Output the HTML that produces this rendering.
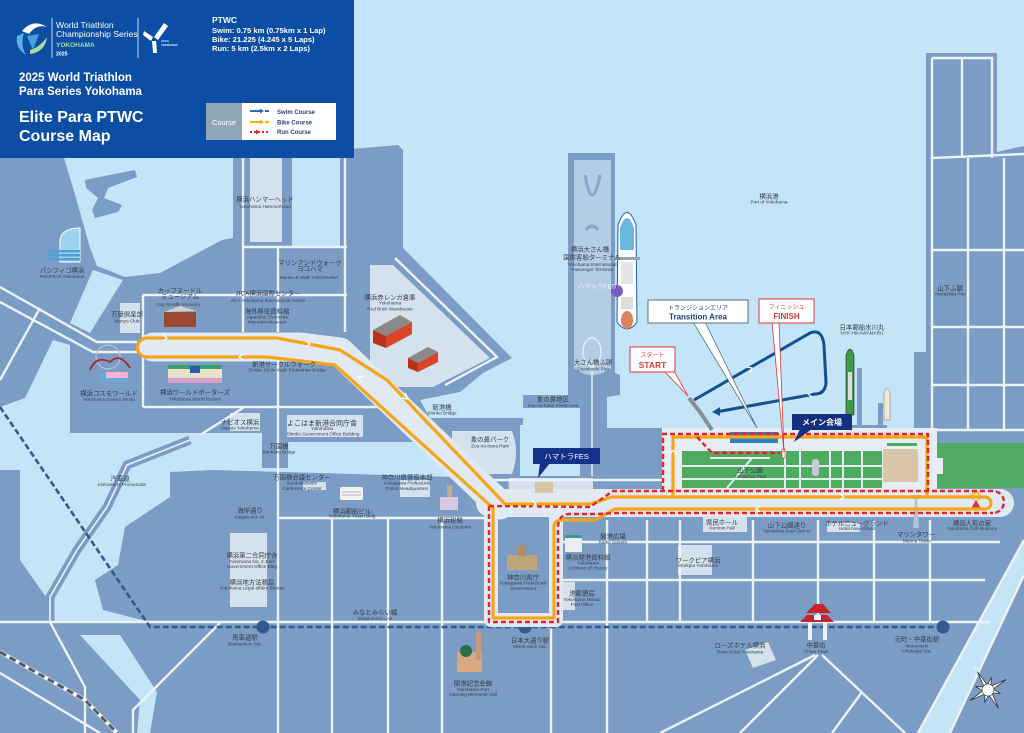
<!DOCTYPE html>
<html><head><meta charset="utf-8">
<style>
html,body{margin:0;padding:0;background:#c4e4f7;}
body{width:1024px;height:733px;overflow:hidden;}
svg{display:block;}
.j{font-family:"Liberation Sans","Noto Sans CJK JP",sans-serif;font-size:6.4px;fill:#333b46;text-anchor:middle;}
.e{font-family:"Liberation Sans",sans-serif;font-size:4.7px;fill:#3a4350;text-anchor:middle;}
.w{stroke:#edf2f8;stroke-width:2.4;fill:none;}
.h{font-family:"Liberation Sans",sans-serif;fill:#fff;font-weight:bold;}
</style></head><body>
<svg width="1024" height="733" viewBox="0 0 1024 733" xmlns="http://www.w3.org/2000/svg">
<rect width="1024" height="733" fill="#c4e4f7"/>

<!-- LAND -->
<g fill="#7b9cc4">
 <polygon points="0,150 62,150 64,158 76,198 90,248 97,266 125,277 160,273 222,240 233,238 233,150 292,150 292,246 340,246 340,150 398,145 403,150 403,248 512,358 483,373 460,392 420,400 430,418 523,418 523,427 455,427 455,442 0,442"/>
 <polygon points="0,440 447,440 447,425 520,425 520,476 580,476 580,428 1024,428 1024,733 0,733"/>
 <polygon points="568,153 615,153 615,373 620,375 620,395 607,397 607,476 580,476 580,397 568,395"/>
 <rect x="523" y="395" width="60" height="13"/>
 <polygon points="926,53 997,53 997,152 1024,146 1024,440 914,440 914,352 926,352"/>
 <rect x="857" y="368" width="5" height="62"/>
 <rect x="878" y="403" width="5" height="27"/>
 <rect x="852" y="425" width="35" height="5"/>
 <polygon points="85,180 135,170 137,177 108,188 104,198 122,205 118,212 95,218 92,210 98,198 86,188"/>
</g>

<!-- WATER PATCHES -->
<g fill="#c4e4f7">
 <polygon points="93,270 123,280 90,333 70,323"/>
 <polygon points="53,340 70,345 70,433 262,433 262,442 455,442 455,477 213,470 170,472 170,497 125,527 118,565 95,580 103,610 150,622 50,622 48,600 20,560 20,470 0,470 0,407 25,398"/>
 <polygon points="80,635 120,635 157,692 150,733 137,733 140,700"/>
 <polygon points="1024,540 1024,575 950,733 918,733"/>
</g>
<rect x="262" y="440" width="26" height="28" fill="#7b9cc4"/>
<!-- Kishamichi promenade -->
<polyline points="190,440 127,465 107,507 77,550 50,597 50,622" fill="none" stroke="#7b9cc4" stroke-width="9"/>
<polyline points="190,440 127,465 107,507 77,550 50,597 50,622" fill="none" stroke="#edf2f8" stroke-width="1.6"/>

<!-- LIGHT LOTS -->
<g fill="#d5e1ec">
 <rect x="250" y="158" width="32" height="84"/>
 <rect x="120" y="303" width="20" height="30"/>
 <polygon points="370,265 393,265 490,358 433,387 370,387"/>
 <rect x="230" y="533" width="37" height="74"/>
 <rect x="287" y="415" width="76" height="22"/>
 <rect x="303" y="482" width="23" height="8"/>
 <rect x="400" y="480" width="30" height="17"/>
 <rect x="678" y="545" width="34" height="30"/>
 <rect x="703" y="517" width="44" height="15"/>
 <rect x="827" y="523" width="33" height="9"/>
 <rect x="230" y="413" width="30" height="18"/>
 <polygon points="745,650 768,642 776,660 753,668"/>
 <path d="M452,431 L512,431 Q520,452 512,474 L452,474 Z"/>
 <path d="M509,478 L593,478 L593,507 L522,507 Q506,498 509,478 Z"/>
 <rect x="562" y="582" width="13" height="28"/>
</g>
<path d="M574,160 L611,160 L611,368 Q592,382 574,368 Z" fill="#b4cde6"/>
<path d="M585,175 Q592,215 600,175 M586,230 Q592,222 598,230" stroke="#86a6cc" stroke-width="3" fill="none"/>
<ellipse cx="592" cy="352" rx="9" ry="14" fill="none" stroke="#e6eef6" stroke-width="1.5"/>
<line x1="592" y1="366" x2="592" y2="476" stroke="#e6eef6" stroke-width="1.5"/>
<rect x="520" y="425" width="60" height="51" fill="#c4e4f7"/>

<!-- ROADS -->
<g class="w">
 <path d="M243,158 L243,332 M243,247 L347,247 M278,247 L278,332 M345,158 L345,332 M143,295 L347,295 M143,295 L143,407 M143,407 L410,407"/>
 <path d="M0,287 L97,342 L137,342 M0,302 L93,352 L137,352 M40,308 L0,380 M278,360 L278,733 M200,435 L243,408"/>
 <path d="M395,258 L497,357 L445,385"/>
 <path d="M277,518 L490,518 M455,480 L662,480 M332,518 L332,733 M388,518 L388,733 M442,518 L442,733 M0,622 L990,622 M551,622 L551,733 M607,520 L607,733 M647,520 L647,622 M680,520 L680,622 M753,520 L753,622 M818,520 L818,622 M874,520 L874,622 M930,520 L930,622 M560,542 L1000,542 M560,580 L985,580"/>
 <path d="M815,655 L660,733 M818,655 L740,733 M822,655 L905,733 M862,692 L832,733 M50,622 L85,687 L85,733 M220,623 L133,710 L133,733 M0,673 L100,733 M1024,540 L918,733 M1024,575 L950,733"/>
 <path d="M932,58 L992,58 L992,158 M962,58 L962,158 M932,58 L932,430 M932,158 L1024,154 M968,158 L968,430 M1004,158 L1004,430 M932,250 L1024,250 M932,327 L1024,327 M932,385 L1024,385 M932,430 L1024,430"/>
</g>
<!-- railway -->
<polyline points="0,652 85,700 117,733" fill="none" stroke="#f4f6f8" stroke-width="4"/>
<polyline points="0,652 85,700 117,733" fill="none" stroke="#555c66" stroke-width="3" stroke-dasharray="7,4"/>
<!-- metro line -->
<polyline points="0,407 150,627 943,627" fill="none" stroke="#34598f" stroke-width="2.6" stroke-dasharray="6,3"/>
<g fill="#34598f"><circle cx="263" cy="627" r="6.5"/><circle cx="525" cy="627" r="6.5"/><circle cx="943" cy="627" r="6.5"/></g>

<!-- ROUTE BACKGROUND -->
<g fill="none" stroke="#e1e9f2" stroke-linejoin="round">
 <path d="M153,347 L300,347 L340,352 L500,505" stroke-width="29" stroke-linecap="round"/>
 <path d="M490,503 L1000,503" stroke-width="28" stroke-linecap="round"/>
 <path d="M491,505 L491,620 L556,620 L556,515" stroke-width="14"/>
</g>
<rect x="662" y="428" width="275" height="72" fill="#e6edf4"/>

<!-- PARK -->
<rect x="682" y="451" width="200" height="37" fill="#4fab62"/>
<g stroke="#e6edf0" stroke-width="2" fill="none">
 <path d="M682,466 L882,466 M682,479 L882,479 M727,488 L752,458 M785,451 L785,488 M800,451 L800,488 M830,451 L830,488 M843,451 L843,488 M862,451 L862,488 M710,458 L770,458"/>
</g>
<rect x="812" y="459" width="7" height="17" rx="3" fill="#c7ccd2"/>
<rect x="883" y="449" width="35" height="33" fill="#d9c6a8"/>
<rect x="887" y="443" width="30" height="3" fill="#4fab62"/>
<rect x="937" y="443" width="87" height="45" fill="#4fab62"/>
<rect x="934" y="458" width="9" height="16" fill="#e6edf4"/>
<rect x="730" y="432" width="48" height="11" fill="#2f7fc5"/>

<!-- ILLUSTRATIONS -->
<path d="M60,262 L60,240 Q62,228 80,228 L80,262 Z" fill="#9fd2ee" stroke="#fff" stroke-width="1"/>
<g fill="#4f9fd8"><rect x="48" y="250" width="32" height="2.5"/><rect x="48" y="254" width="32" height="2.5"/><rect x="48" y="258" width="32" height="2.5"/></g>
<rect x="164" y="312" width="32" height="15" fill="#9a4a30"/>
<polygon points="164,312 180,306 196,311" fill="#cfcfcf"/>
<polygon points="373,330 400,315 412,322 386,336" fill="#8c8a88"/>
<polygon points="373,330 386,336 386,348 373,343" fill="#b8321c"/>
<polygon points="386,336 412,322 412,334 386,348" fill="#d8452a"/>
<polygon points="408,358 428,347 438,352 418,363" fill="#8c8a88"/>
<polygon points="408,358 418,363 418,372 408,368" fill="#b8321c"/>
<polygon points="418,363 438,352 438,362 418,372" fill="#d8452a"/>
<rect x="168" y="368" width="54" height="15" fill="#e8e2c8"/>
<rect x="168" y="365" width="54" height="4" fill="#3aa070"/>
<rect x="168" y="378" width="54" height="5" fill="#d8a0c8"/>
<rect x="190" y="366" width="10" height="7" fill="#2a5aa8"/>
<circle cx="108" cy="357" r="12" fill="none" stroke="#b9c2cc" stroke-width="1.2"/>
<path d="M90,370 Q96,355 110,362 Q120,352 130,368" fill="none" stroke="#a3283a" stroke-width="1.8"/>
<rect x="100" y="373" width="28" height="9" fill="#6aa8e0"/>
<rect x="106" y="372" width="22" height="6" fill="#f2b4d2"/>
<rect x="440" y="497" width="18" height="13" fill="#d8c9e0"/>
<rect x="447" y="485" width="5" height="12" fill="#c8a890"/>
<rect x="507" y="555" width="30" height="15" fill="#bfa57a"/>
<rect x="518" y="545" width="8" height="11" fill="#b09060"/>
<rect x="565" y="538" width="17" height="14" fill="#e9eef0"/>
<rect x="565" y="535" width="17" height="3" fill="#3c9a8a"/>
<rect x="457" y="652" width="25" height="20" fill="#d9a880"/>
<circle cx="466" cy="651" r="6" fill="#2f6e4a"/>
<rect x="476" y="632" width="5" height="28" fill="#c89a70"/>
<rect x="340" y="487" width="23" height="13" rx="2" fill="#f2f4f6"/>
<g stroke="#9aa4ae" stroke-width=".8"><line x1="342" y1="492" x2="361" y2="492"/><line x1="342" y1="495" x2="361" y2="495"/></g>
<polygon points="913,528 915,497 917,497 919,528" fill="#b0c4d8"/>
<rect x="911" y="495" width="10" height="4" fill="#9db3ca"/>
<circle cx="976" cy="496" r="5" fill="#f2c24a"/>
<circle cx="976" cy="497" r="3" fill="#fde8d8"/>
<path d="M970,510 L976,500 L982,510 Z" fill="#d23a3a"/>
<!-- Chinatown gate -->
<polygon points="806,613 815,604 823,604 831,613" fill="#c8232a"/>
<polygon points="800,622 807,615 827,615 834,622" fill="#c8232a"/>
<rect x="814" y="615" width="7" height="5" fill="#fff"/>
<rect x="808" y="622" width="4" height="18" fill="#eef0f2"/>
<rect x="823" y="622" width="4" height="18" fill="#eef0f2"/>
<!-- ships -->
<path d="M846,355 Q850,343 854,355 L854,415 L846,415 Z" fill="#3e9a48" stroke="#222" stroke-width=".6"/>
<rect x="848" y="372" width="4" height="28" fill="#dcdcdc"/>
<path d="M884,392 Q887,385 890,392 L890,420 L884,420 Z" fill="#f4e9d0" stroke="#777" stroke-width=".5"/>
<path d="M618,225 Q627,200 636,225 L637,322 Q627,336 617,322 Z" fill="#fff" stroke="#1e5fa8" stroke-width="1"/>
<path d="M620,228 Q627,208 634,228 L634,250 L620,250 Z" fill="#6ab8dd"/>
<rect x="612" y="257" width="28" height="3" fill="#9aa3ad"/>
<rect x="621" y="262" width="12" height="22" fill="#e2e6ea"/>
<circle cx="617" cy="291" r="6" fill="#7a5cc0"/>
<rect x="621" y="297" width="12" height="12" fill="#dcdcdc"/>
<ellipse cx="627" cy="320" rx="6" ry="9" fill="#d9845e"/>
<!-- start pontoon -->
<polyline points="689,398 700,412 712,430" fill="none" stroke="#8a8f96" stroke-width="4"/>

<!-- BIKE (yellow) -->
<g fill="none" stroke="#f6a51b" stroke-width="3.2" stroke-linejoin="round">
 <path d="M147,338 L277,338 L340,350 L387,380 L505,504 L590,504 L612,497 L985,497 A6,6 0 0 1 985,509 L615,509 L595,520 L562,520 Q554,520 554,528 L554,618 L493,618 L493,508 L335,365 L267,357 L147,357 A9.5,9.5 0 0 1 147,338"/>
 <path d="M673,497 L673,437 L927,437 L927,497"/>
</g>
<!-- RUN (red dashed) -->
<g fill="none" stroke="#e0262a" stroke-width="2.4" stroke-dasharray="5,3" stroke-linejoin="round">
 <path d="M489,506 L489,622 L558,622 L558,528 Q558,514 570,514 L598,514 L618,513 L993,513"/>
 <path d="M489,506 L590,507 L613,491 L993,491 A11,11 0 0 1 993,513"/>
 <path d="M663,491 L663,434 L928,434 L928,491"/>
 <path d="M697,437 L712,453 L780,453"/>
</g>
<rect x="782" y="449" width="3" height="9" fill="#fff" stroke="#e0262a" stroke-width=".6"/>
<!-- chevrons -->
<g fill="none" stroke="#fff" stroke-width="1.4">
 <path d="M163,335 L167,338 L163,341"/><path d="M306,341 L310,344 L306,347"/><path d="M243,354 L239,357 L243,360"/>
 <path d="M405,393 L408,399 L402,398"/><path d="M362,383 L358,377 L364,377"/><path d="M532,500 L536,504 L532,508"/>
 <path d="M840,494 L844,497 L840,500"/><path d="M760,506 L756,509 L760,512"/><path d="M673,450 L670,454 M673,450 L676,454"/>
</g>

<!-- SWIM -->
<path d="M694,400 L810,333 Q822,328 824,345 L826,383 Q825,394 815,394 L716,412" fill="none" stroke="#154f8e" stroke-width="3"/>
<polygon points="712,412 720,407 720,416" fill="#154f8e"/>
<g fill="none" stroke="#fff" stroke-width="1.2"><path d="M747,367 L752,368 L750,373"/><path d="M812,392 L808,394 L812,397"/></g>

<!-- CALLOUTS -->
<polygon points="693,322 705,322 757,428" fill="#fff" stroke="#5a6f8a" stroke-width=".8"/>
<rect x="648" y="300" width="100" height="23" fill="#fff" stroke="#5a6f8a" stroke-width="1"/>
<text x="698" y="310" class="j" style="fill:#2a4070;font-size:6px">トランジションエリア</text>
<text x="698" y="319.5" style="font-family:'Liberation Sans',sans-serif;font-size:8px;font-weight:bold;fill:#1f3d7a" text-anchor="middle">Transition Area</text>
<polygon points="772,322 779,322 784,452" fill="#fff" stroke="#d83a3a" stroke-width=".8"/>
<rect x="759" y="299" width="55" height="24" fill="#fff" stroke="#d83a3a" stroke-width="1"/>
<text x="786.5" y="309" class="j" style="fill:#d83a3a;font-size:6px">フィニッシュ</text>
<text x="786.5" y="319" style="font-family:'Liberation Sans',sans-serif;font-size:8px;font-weight:bold;fill:#d83a3a" text-anchor="middle">FINISH</text>
<polygon points="664,371 674,371 688,396" fill="#fff" stroke="#d83a3a" stroke-width=".8"/>
<rect x="630" y="347" width="45" height="25" fill="#fff" stroke="#d83a3a" stroke-width="1"/>
<text x="652.5" y="357" class="j" style="fill:#d83a3a;font-size:6px">スタート</text>
<text x="652.5" y="368" style="font-family:'Liberation Sans',sans-serif;font-size:8.5px;font-weight:bold;fill:#d83a3a" text-anchor="middle">START</text>
<polygon points="800,429 812,429 794,442" fill="#15307e"/>
<rect x="792" y="414" width="60" height="16" fill="#15307e"/>
<text x="822" y="425" class="j" style="fill:#fff;font-size:8px;font-weight:bold">メイン会場</text>
<polygon points="540,463 550,463 538,478" fill="#14318a"/>
<rect x="533" y="448" width="67" height="16" fill="#14318a"/>
<text x="566.5" y="459" class="j" style="fill:#fff;font-size:7.5px">ハマトラFES</text>
<rect x="535" y="482" width="18" height="11" fill="#d8c3a5"/>

<!-- LABELS -->
<g>
<text class="j" x="265" y="201.5">横浜ハンマーヘッド</text><text class="e" x="265" y="208">Yokohama Hammerhead</text>
<text class="j" x="62" y="272.5">パシフィコ横浜</text><text class="e" x="62" y="278">PACIFICO Yokohama</text>
<text class="j" x="310" y="265">マリンアンドウォーク</text><text class="j" x="310" y="271">ヨコハマ</text><text class="e" x="309" y="279">Marine &amp; Walk YOKOHAMA</text>
<text class="j" x="180" y="293">カップヌードル</text><text class="j" x="180" y="298.5">ミュージアム</text><text class="e" x="178" y="306">Cup Noodle Museum</text>
<text class="j" x="268" y="295.5">JICA横浜国際センター</text><text class="e" x="268" y="302">JICA Yokohama International Center</text>
<text class="j" x="267" y="313.5">海外移住資料館</text><text class="e" x="267" y="318.5">Japanese Overseas</text><text class="e" x="267" y="323.5">Migration Museum</text>
<text class="j" x="127" y="316.5">万葉倶楽部</text><text class="e" x="127" y="322.5">Manyo Club</text>
<text class="j" x="390" y="299.5">横浜赤レンガ倉庫</text><text class="e" x="390" y="304.5">Yokohama</text><text class="e" x="390" y="310.5">Red Brick Warehouse</text>
<text class="j" x="284" y="366.5">新港サークルウォーク</text><text class="e" x="287" y="371.5">Shinko Circle Walk Pedestrian Bridge</text>
<text class="j" x="109" y="395.5">横浜コスモワールド</text><text class="e" x="109" y="401">Yokohama Cosmo World</text>
<text class="j" x="195" y="394.5">横浜ワールドポーターズ</text><text class="e" x="195" y="400.5">Yokohama World Porters</text>
<text class="j" x="240" y="424.5">ナビオス横浜</text><text class="e" x="240" y="429.5">Navios Yokohama</text>
<text class="j" x="322" y="425.5" style="font-size:7px">よこはま新港合同庁舎</text><text class="e" x="322" y="430">Yokohama</text><text class="e" x="323" y="435.5">Shinko Government Office Building</text>
<text class="j" x="279" y="448.5">万国橋</text><text class="e" x="279" y="453.5">Bankoku Bridge</text>
<text class="j" x="442" y="409.5">新港橋</text><text class="e" x="442" y="414.5">Shinko Bridge</text>
<text class="j" x="490" y="441.5">象の鼻パーク</text><text class="e" x="490" y="447.5">Zou-no-hana Park</text>
<text class="j" x="553" y="401.5">象の鼻地区</text><text class="e" x="553" y="407">Zou-no-hana Event Area</text>
<text class="j" x="593" y="364.5">大さん橋ふ頭</text><text class="e" x="593" y="370.5">Osanbashi Pier</text>
<text class="j" x="590" y="251.5">横浜大さん橋</text><text class="j" x="592" y="259.5">国際客船ターミナル</text><text class="e" x="592" y="266">Yokohama International</text><text class="e" x="592" y="271">Passenger Terminal</text>
<text class="j" x="597" y="288.5" style="fill:#fff;opacity:.8">ハマトラFES</text>
<text class="j" x="769" y="198.5">横浜港</text><text class="e" x="769" y="203.5">Port of Yokohama</text>
<text class="j" x="950" y="290.5">山下ふ頭</text><text class="e" x="950" y="295.5">Yamashita Pier</text>
<text class="j" x="862" y="329.5">日本郵船氷川丸</text><text class="e" x="862" y="334.5">NYK HIKAWAMARU</text>
<text class="j" x="120" y="480.5">汽車道</text><text class="e" x="122" y="486">Kishamichi Promenade</text>
<text class="j" x="302" y="479.5">万国橋会議センター</text><text class="e" x="302" y="484.5">Bankokubashi</text><text class="e" x="302" y="490">Conference Center</text>
<text class="j" x="407" y="479.5">神奈川県警察本部</text><text class="e" x="407" y="484.5">Kanagawa Prefectural</text><text class="e" x="407" y="490">Police Headquarters</text>
<text class="j" x="352" y="513.5">横浜郵船ビル</text><text class="e" x="352" y="517.5">Yokohama Yusen Bldg</text>
<text class="j" x="450" y="522.5">横浜税関</text><text class="e" x="450" y="528.5">Yokohama Customs</text>
<text class="j" x="250" y="512.5">海岸通り</text><text class="e" x="250" y="518.5">Kaigan-dori St.</text>
<text class="j" x="252" y="557.5">横浜第二合同庁舎</text><text class="e" x="252" y="563">Yokohama No. 2 Joint</text><text class="e" x="252" y="568">Government Office Bldg</text>
<text class="j" x="252" y="584.5">横浜地方法務局</text><text class="e" x="252" y="589.5">Yokohama Legal affairs Bureau</text>
<text class="j" x="375" y="614.5">みなとみらい線</text><text class="e" x="375" y="620">Minatomirai Line</text>
<text class="j" x="245" y="639.5">馬車道駅</text><text class="e" x="245" y="645.5">Bashamichi Sta.</text>
<text class="j" x="613" y="538.5">開港広場</text><text class="e" x="613" y="543.5">Kaiko Square</text>
<text class="j" x="588" y="559.5">横浜開港資料館</text><text class="e" x="588" y="564.5">Yokohama</text><text class="e" x="588" y="569.5">Archives of History</text>
<text class="j" x="523" y="579.5">神奈川県庁</text><text class="e" x="523" y="584.5">Kanagawa Prefectural</text><text class="e" x="523" y="590">Government</text>
<text class="j" x="582" y="595.5">港郵便局</text><text class="e" x="582" y="601">Yokohama Minato</text><text class="e" x="582" y="606">Post Office</text>
<text class="j" x="530" y="642.5">日本大通り駅</text><text class="e" x="530" y="648">Nihon-odori Sta.</text>
<text class="j" x="473" y="685.5">開港記念会館</text><text class="e" x="473" y="691">Yokohama Port</text><text class="e" x="473" y="696">Opening Memorial Hall</text>
<text class="j" x="722" y="524.5">県民ホール</text><text class="e" x="722" y="529.5">Kenmin Hall</text>
<text class="j" x="787" y="527.5">山下公園通り</text><text class="e" x="787" y="532.5">Yamashita koen dori st.</text>
<text class="j" x="857" y="525.5">ホテルニューグランド</text><text class="e" x="857" y="530">Hotel New Grand</text>
<text class="j" x="916" y="536.5">マリンタワー</text><text class="e" x="917" y="542.5">Marine Tower</text>
<text class="j" x="972" y="525.5">横浜人形の家</text><text class="e" x="972" y="530">Yokohama Doll Museum</text>
<text class="j" x="698" y="562.5">ワークピア横浜</text><text class="e" x="698" y="567">Workpia Yokohama</text>
<text class="j" x="750" y="472.5">山下公園</text><text class="e" x="750" y="478">Yamashita Park</text>
<text class="j" x="740" y="647.5">ローズホテル横浜</text><text class="e" x="740" y="653.5">Rose Hotel Yokohama</text>
<text class="j" x="816" y="647.5">中華街</text><text class="e" x="816" y="653">China Town</text>
<text class="j" x="917" y="641.5">元町・中華街駅</text><text class="e" x="917" y="647.5">Motomachi</text><text class="e" x="917" y="652.5">Chukagai Sta.</text>
</g>

<!-- COMPASS -->
<g transform="translate(988,690) rotate(-30)">
 <polygon points="0,-21 1.91,-4.62 9.19,-9.19 4.62,-1.91 21,0 4.62,1.91 9.19,9.19 1.91,4.62 0,21 -1.91,4.62 -9.19,9.19 -4.62,1.91 -21,0 -4.62,-1.91 -9.19,-9.19 -1.91,-4.62" fill="#fff" stroke="#333" stroke-width=".8"/>
 <circle r="6" fill="#fff" stroke="#333" stroke-width=".6"/>
 <text x="0" y="-23" style="font-family:'Liberation Sans',sans-serif;font-size:6px;fill:#fff" text-anchor="middle">N</text>
</g>

<!-- HEADER -->
<rect x="0" y="0" width="354" height="158" fill="#0c4ea3"/>
<path d="M22,31 Q33,18 47,27 Q36,24 29,34 Z" fill="#ffffff"/>
<path d="M17,36 Q15,48 26,55 Q20,45 24,33 Z" fill="#5ab0e6"/>
<path d="M30,54 Q45,52 47,37 Q40,47 30,50 Z" fill="#a8dca0"/>
<path d="M27,36 L39,34 L33,50 Z" fill="#4a9fd8"/>
<line x1="52" y1="18" x2="52" y2="58" stroke="#fff" stroke-width=".8"/>
<text x="56" y="28" class="h" style="font-weight:normal;font-size:8.6px">World Triathlon</text>
<text x="56" y="37" class="h" style="font-weight:normal;font-size:8.6px">Championship Series</text>
<text x="56" y="47" class="h" style="font-size:6.5px;fill:#a8dca0">YOKOHAMA</text>
<text x="56" y="55.5" class="h" style="font-size:5.2px">2025</text>
<line x1="138" y1="18" x2="138" y2="58" stroke="#fff" stroke-width=".8"/>
<polygon points="144,31 153,37 151,41 143,35" fill="#fff"/>
<polygon points="154,37 164,23 168,26 158,40" fill="#fff"/>
<polygon points="152,41 156,41 157,53 153,53" fill="#fff"/>
<text x="161" y="42" class="h" style="font-weight:normal;font-size:2.8px">OPEN</text>
<text x="161" y="46" class="h" style="font-size:2.8px">YOKOHAMA</text>
<text x="212" y="23" class="h" style="font-size:8.5px">PTWC</text>
<text x="212" y="33" class="h" style="font-size:7.6px">Swim: 0.75 km (0.75km x 1 Lap)</text>
<text x="212" y="42" class="h" style="font-size:7.6px">Bike: 21.225 (4.245 x 5 Laps)</text>
<text x="212" y="51" class="h" style="font-size:7.6px">Run: 5 km (2.5km x 2 Laps)</text>
<text x="19" y="81" class="h" style="font-size:11.5px">2025 World Triathlon</text>
<text x="19" y="95" class="h" style="font-size:11.5px">Para Series Yokohama</text>
<text x="19" y="122" class="h" style="font-size:16px">Elite Para PTWC</text>
<text x="19" y="141" class="h" style="font-size:16px">Course Map</text>
<rect x="206" y="103" width="36" height="37" fill="#8fa6b6"/>
<rect x="242" y="103" width="94" height="37" fill="#fff"/>
<text x="224" y="125" style="font-family:'Liberation Sans',sans-serif;font-size:7.5px;fill:#fff" text-anchor="middle">Course</text>
<line x1="250" y1="111" x2="260" y2="111" stroke="#2a6cb5" stroke-width="2"/><polygon points="260,108.5 264,111 260,113.5" fill="#2a6cb5"/><line x1="265" y1="111" x2="269" y2="111" stroke="#2a6cb5" stroke-width="2"/>
<line x1="250" y1="122" x2="260" y2="122" stroke="#f2b01e" stroke-width="2"/><polygon points="260,119.5 264,122 260,124.5" fill="#f2b01e"/><line x1="265" y1="122" x2="269" y2="122" stroke="#f2b01e" stroke-width="2"/>
<line x1="250" y1="132" x2="269" y2="132" stroke="#e0262a" stroke-width="2" stroke-dasharray="2,2"/><polygon points="256,129.5 260,132 256,134.5" fill="#e0262a"/>
<text x="277" y="114" style="font-family:'Liberation Sans',sans-serif;font-size:6px;font-weight:bold;fill:#2a3f7a">Swim Course</text>
<text x="277" y="124.5" style="font-family:'Liberation Sans',sans-serif;font-size:6px;font-weight:bold;fill:#2a3f7a">Bike Course</text>
<text x="277" y="134" style="font-family:'Liberation Sans',sans-serif;font-size:6px;font-weight:bold;fill:#2a3f7a">Run Course</text>
</svg>
</body></html>
